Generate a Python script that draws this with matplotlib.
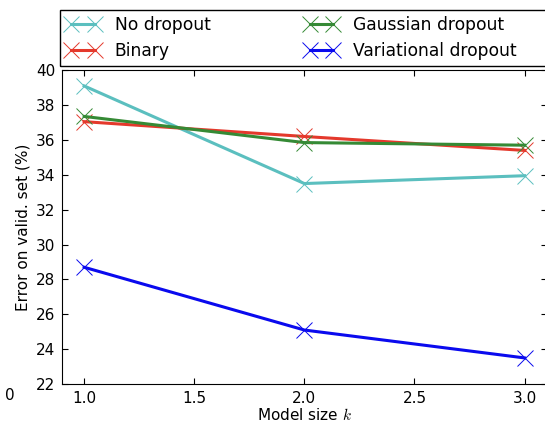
import matplotlib
matplotlib.use('Agg')
import matplotlib.pyplot as plt
from matplotlib.patches import Rectangle

# model sizes and validation errors (%)
sizes = [1.0, 2.0, 3.0]
no_dropout = [39.1, 33.5, 33.95]
binary = [37.05, 36.2, 35.4]
gaussian = [37.35, 35.85, 35.7]
variational = [28.7, 25.1, 23.5]

labels = ['No dropout', 'Binary', 'Gaussian dropout', 'Variational dropout']
colors = ['#5bbfbf', '#e4392c', '#358a35', '#0a0aee']

plt.rcParams['xtick.direction'] = 'in'
plt.rcParams['ytick.direction'] = 'in'
plt.rcParams['xtick.top'] = True
plt.rcParams['ytick.right'] = True
plt.rcParams['xtick.major.size'] = 4
plt.rcParams['ytick.major.size'] = 4
plt.rcParams['mathtext.fontset'] = 'cm'

fig = plt.figure(figsize=(5.45, 4.23), dpi=100)
ax = fig.add_axes([0.114, 0.092, 0.889, 0.742])

series = [no_dropout, binary, gaussian, variational]
for vals, lab, col in zip(series, labels, colors):
    ax.plot(sizes, vals, '-x', color=col, lw=2.2, ms=12, mew=0.7, label=lab)

ax.set_xlim(0.9, 3.1)
ax.set_ylim(22, 40)
ax.set_xticks([1.0, 1.5, 2.0, 2.5, 3.0])
ax.set_yticks(range(22, 41, 2))
ax.tick_params(labelsize=11, pad=5)
ax.set_xlabel('Model size $k$', fontsize=11, labelpad=1)
ax.set_ylabel('Error on valid. set (%)', fontsize=11)

# legend box runs past the right edge in the original, so draw frame by hand
fig.legend(ncol=2, loc='upper left', bbox_to_anchor=(0.110, 1 - 10 / 423),
           fontsize=12.3, numpoints=2, handlelength=2.0,
           frameon=False, borderaxespad=0, labelspacing=0.47,
           handletextpad=0.85, columnspacing=5.5, borderpad=0.35)
fig.patches.append(Rectangle((60 / 545, 1 - 66 / 423), 0.95, 56 / 423,
                             transform=fig.transFigure, fill=False,
                             edgecolor='black', lw=1.0))

# stray tick label from neighbouring panel
fig.text(0.009, 0.055, '0', fontsize=11)

fig.savefig('out.png', dpi=100)
